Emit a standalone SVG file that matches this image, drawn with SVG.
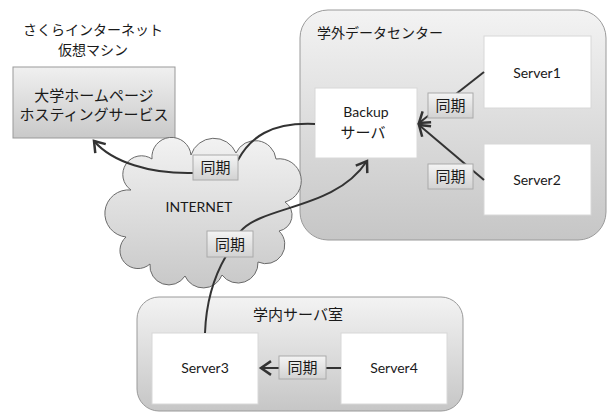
<svg xmlns="http://www.w3.org/2000/svg" width="607" height="414" viewBox="0 0 607 414">
<defs>
<linearGradient id="gCont" x1="0" y1="0" x2="0" y2="1"><stop offset="0" stop-color="#f3f3f3"/><stop offset="1" stop-color="#c6c6c6"/></linearGradient>
<linearGradient id="gBox" x1="0" y1="0" x2="0" y2="1"><stop offset="0" stop-color="#f0f0f0"/><stop offset="1" stop-color="#c9c9c9"/></linearGradient>
<linearGradient id="gLbl" x1="0" y1="0" x2="0" y2="1"><stop offset="0" stop-color="#f4f4f4"/><stop offset="1" stop-color="#d2d2d2"/></linearGradient>
<linearGradient id="gCloud" x1="0" y1="0" x2="0" y2="1"><stop offset="0" stop-color="#f2f2f2"/><stop offset="1" stop-color="#c8c8c8"/></linearGradient>
<marker id="arr" markerUnits="userSpaceOnUse" markerWidth="20" markerHeight="20" viewBox="-12 -8 14 16" refX="0" refY="0" orient="auto">
<path d="M-8,-5.5 L0,0 L-8,5.5" fill="none" stroke="#333" stroke-width="2"/>
</marker>
</defs>
<style>
.cont{fill:url(#gCont);stroke:#9a9a9a;stroke-width:1}
.srv{fill:#fff;stroke:#d8d8d8;stroke-width:1}
.lbl{fill:url(#gLbl);stroke:#aaa;stroke-width:1}
.jp{font-family:"Noto Sans CJK JP","Noto Sans",sans-serif;fill:#1a1a1a}
.en{font-family:Lato,"Liberation Sans",sans-serif;fill:#1a1a1a}
.ln{fill:none;stroke:#333;stroke-width:2}
</style>
<rect width="607" height="414" fill="#fff"/>

<g id="datacenter">
<rect class="cont" x="300" y="10" width="306" height="230" rx="28"/>
<text class="jp" x="317" y="38" font-size="14">学外データセンター</text>
</g>
<g id="campus">
<rect class="cont" x="137" y="297" width="326" height="114" rx="22"/>
<text class="jp" x="298" y="320" font-size="15" text-anchor="middle">学内サーバ室</text>
</g>

<g id="sakura">
<text class="jp" x="93" y="35" font-size="14" text-anchor="middle">さくらインターネット</text>
<text class="jp" x="93" y="55" font-size="14" text-anchor="middle">仮想マシン</text>
<rect x="13" y="67" width="162" height="71" fill="url(#gBox)" stroke="#999"/>
<text class="jp" x="94" y="101" font-size="15" text-anchor="middle">大学ホームページ</text>
<text class="jp" x="94" y="120" font-size="15" text-anchor="middle">ホスティングサービス</text>
</g>

<g id="internet">
<path d="M131,190 A17 17 0 0 1 152,159 A19 19 0 0 1 191,155 A24 24 0 0 1 236,153 A21 21 0 0 1 276,159 A22 22 0 0 1 285,202 A16 16 0 0 1 279,231 A19 19 0 0 1 258,262 A20 20 0 0 1 222,275 A20 20 0 0 1 185,276 A19 19 0 0 1 150,264 A17 17 0 0 1 126,237 A15 15 0 0 1 131,190 Z" fill="url(#gCloud)" stroke="#6a6a6a" stroke-width="1"/>
<text class="en" x="199" y="212" font-size="14" text-anchor="middle">INTERNET</text>
</g>

<g id="backup">
<rect class="srv" x="315" y="88" width="102" height="70"/>
<text class="en" x="366" y="117" font-size="14" text-anchor="middle">Backup</text>
<text class="jp" x="363" y="138" font-size="15" text-anchor="middle">サーバ</text>
</g>
<g id="server1">
<rect class="srv" x="484" y="36" width="107" height="72"/>
<text class="en" x="537" y="78" font-size="14" text-anchor="middle">Server1</text>
</g>
<g id="server2">
<rect class="srv" x="484" y="144" width="107" height="71"/>
<text class="en" x="537" y="185" font-size="14" text-anchor="middle">Server2</text>
</g>
<g id="server3">
<rect class="srv" x="152" y="333" width="106" height="71"/>
<text class="en" x="205" y="373" font-size="14" text-anchor="middle">Server3</text>
</g>
<g id="server4">
<rect class="srv" x="341" y="333" width="106" height="71"/>
<text class="en" x="394" y="373" font-size="14" text-anchor="middle">Server4</text>
</g>

<g id="connectors">
<path class="ln" d="M484,72 L419,123" marker-end="url(#arr)"/>
<path class="ln" d="M484,180 L419,125" marker-end="url(#arr)"/>
<path class="ln" d="M315,124 C270,122 250,138 238,160 Q222,174 193,173 C150,174 112,162 94,141" marker-end="url(#arr)"/>
<path class="ln" d="M205,333 C206,305 212,280 226,256 L240,232 C262,205 335,210 367,161" marker-end="url(#arr)"/>
<path class="ln" d="M341,368 L261,368" marker-end="url(#arr)"/>
<rect class="lbl" x="428" y="93" width="45" height="25"/>
<text class="jp" x="450.5" y="111" font-size="15" text-anchor="middle">同期</text>
<rect class="lbl" x="428" y="164" width="45" height="25"/>
<text class="jp" x="450.5" y="182" font-size="15" text-anchor="middle">同期</text>
<rect class="lbl" x="193" y="155" width="45" height="25"/>
<text class="jp" x="215.5" y="173" font-size="15" text-anchor="middle">同期</text>
<rect class="lbl" x="207" y="231" width="46" height="26"/>
<text class="jp" x="230" y="250" font-size="15" text-anchor="middle">同期</text>
<rect class="lbl" x="279" y="356" width="47" height="23"/>
<text class="jp" x="302.5" y="373" font-size="15" text-anchor="middle">同期</text>
</g>
</svg>
